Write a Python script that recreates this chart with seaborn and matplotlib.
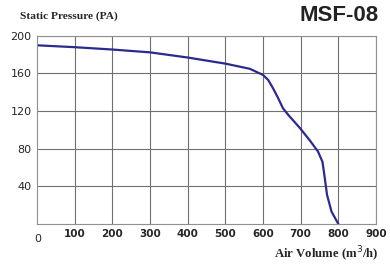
import matplotlib
matplotlib.use("Agg")
import matplotlib.pyplot as plt
import seaborn as sns
import pandas as pd

# air volume (m3/h) vs static pressure (Pa)
air_volume = [0, 100, 200, 300, 400, 500, 565, 600, 614, 627, 640, 653, 667,
              698, 724, 746, 758, 764, 770, 782, 800]
pressure = [190, 188, 185.5, 182.5, 177, 170.5, 165, 158.5, 153, 144, 134, 123, 116,
            102, 89, 77, 66, 49, 31, 13, 0]
x_ticks = [100, 200, 300, 400, 500, 600, 700, 800, 900]
y_ticks = [40, 80, 120, 160, 200]

df = pd.DataFrame({"air": air_volume, "pa": pressure})

sns.set_style("white")
fig = plt.figure(figsize=(3.9, 2.64), dpi=100)
ax = fig.add_axes([0.095, 0.152, 0.869, 0.712])

sns.lineplot(data=df, x="air", y="pa", ax=ax, color="#2b2b8f", linewidth=1.6)

ax.set_xlim(0, 900)
ax.set_ylim(0, 200)
ax.set_xticks(x_ticks)
ax.set_yticks(y_ticks)
ax.grid(True, color="#707070", linewidth=0.8)
for s in ax.spines.values():
    s.set_color("#909090")
    s.set_linewidth(0.8)
ax.tick_params(length=0, pad=4)
ax.set_xticklabels([str(t) for t in x_ticks], fontsize=7.5, fontweight="bold")
ax.set_yticklabels([str(t) for t in y_ticks], fontsize=8)
ax.set_xlabel("")
ax.set_ylabel("")

fig.text(0.097, 0.095, "0", fontsize=8, ha="center", va="center")
fig.text(0.05, 0.94, "Static Pressure (PA)", fontsize=8.2, fontweight="bold",
         family="Liberation Serif", va="center")
fig.text(0.97, 0.94, "MSF-08", fontsize=16, fontweight="bold", family="Liberation Sans",
         color="#222222", ha="right", va="center")
fig.text(0.97, 0.035, "Air Volume (m$^3$/h)", fontsize=9.2, fontweight="bold",
         family="Liberation Serif", ha="right", va="center")

fig.savefig("out.png", dpi=100)
